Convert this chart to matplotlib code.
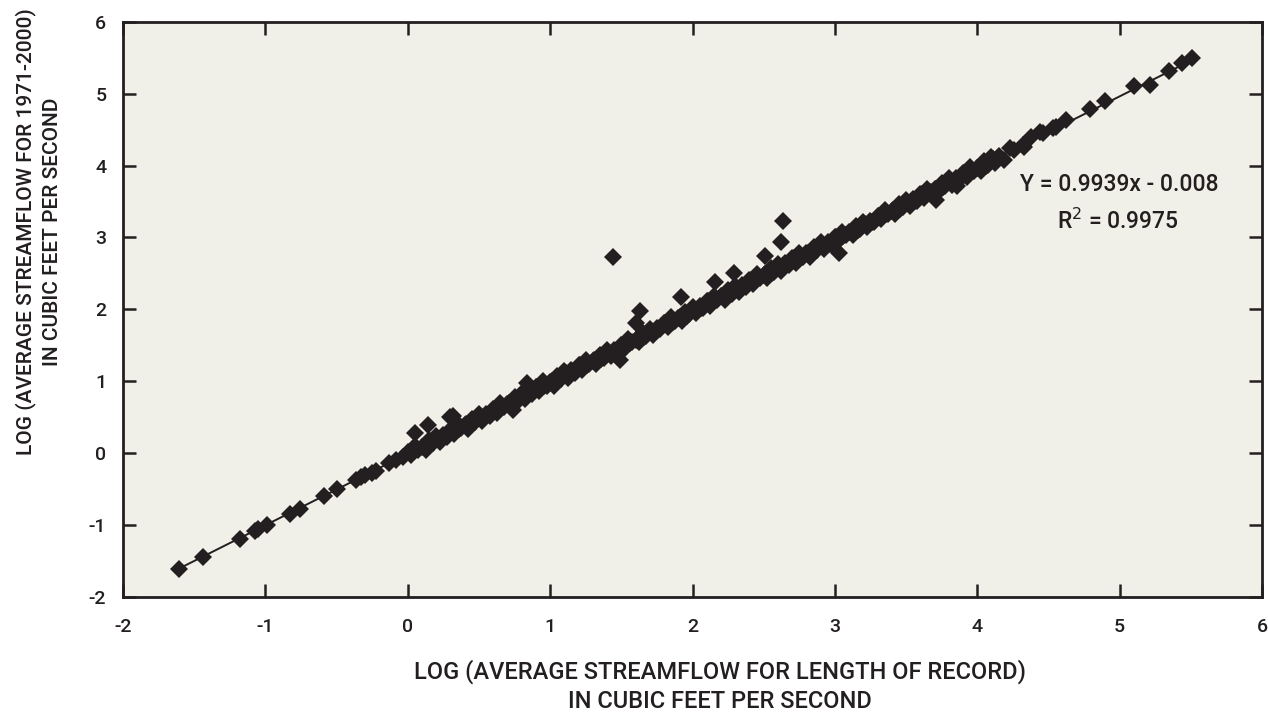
import matplotlib
matplotlib.use("Agg")
import matplotlib.pyplot as plt
import numpy as np

plt.rcParams['font.family'] = ['Roboto', 'DejaVu Sans']
plt.rcParams['font.weight'] = 'medium'
plt.rcParams['axes.unicode_minus'] = False

# log streamflow, length of record (x) vs 1971-2000 (y)
x_low = [-1.61, -1.44, -1.18, -1.07, -1.05, -0.99, -0.83, -0.76, -0.59, -0.50,
         -0.36, -0.33, -0.30, -0.25, -0.22, -0.13, -0.08, -0.03]
y_low = [-1.61, -1.44, -1.19, -1.08, -1.06, -1.00, -0.84, -0.78, -0.60, -0.50,
         -0.37, -0.33, -0.31, -0.27, -0.25, -0.13, -0.09, -0.05]

x_band = [0.000, 0.025, 0.050, 0.075, 0.100, 0.125, 0.150, 0.175, 0.200, 0.225,
          0.250, 0.275, 0.300, 0.325, 0.350, 0.375, 0.400, 0.425, 0.450, 0.475,
          0.500, 0.525, 0.550, 0.575, 0.600, 0.625, 0.650, 0.675, 0.700, 0.725,
          0.750, 0.775, 0.800, 0.825, 0.850, 0.875, 0.900, 0.925, 0.950, 0.975,
          1.000, 1.025, 1.050, 1.075, 1.100, 1.125, 1.150, 1.175, 1.200, 1.225,
          1.250, 1.275, 1.300, 1.325, 1.350, 1.375, 1.400, 1.425, 1.450, 1.475,
          1.500, 1.525, 1.550, 1.575, 1.600, 1.625, 1.650, 1.675, 1.700, 1.725,
          1.750, 1.775, 1.800, 1.825, 1.850, 1.875, 1.900, 1.925, 1.950, 1.975,
          2.000, 2.025, 2.050, 2.075, 2.100, 2.125, 2.150, 2.175, 2.200, 2.225,
          2.250, 2.275, 2.300, 2.325, 2.350, 2.375, 2.400, 2.425, 2.450, 2.475,
          2.500, 2.525, 2.550, 2.575, 2.600, 2.625, 2.650, 2.675, 2.700, 2.725,
          2.750, 2.775, 2.800, 2.825, 2.850, 2.875, 2.900, 2.925, 2.950, 2.975,
          3.000, 3.025, 3.050, 3.075, 3.100, 3.125, 3.150, 3.175, 3.200, 3.225,
          3.250, 3.275, 3.300, 3.325, 3.350, 3.375, 3.400, 3.425, 3.450, 3.475,
          3.500, 3.525, 3.550, 3.575, 3.600, 3.625, 3.650, 3.675, 3.700, 3.725,
          3.750, 3.775, 3.800, 3.825, 3.850, 3.875, 3.900, 3.925, 3.950, 3.975,
          4.000, 4.025, 4.050, 4.075, 4.100, 4.125, 4.150]
y_band = [0.02, -0.03, 0.10, 0.05, 0.09, 0.05, 0.18, 0.14, 0.24, 0.16,
          0.25, 0.23, 0.32, 0.27, 0.40, 0.35, 0.39, 0.34, 0.48, 0.43,
          0.54, 0.45, 0.55, 0.52, 0.62, 0.56, 0.70, 0.64, 0.69, 0.64,
          0.78, 0.73, 0.84, 0.75, 0.85, 0.82, 0.92, 0.86, 1.00, 0.94,
          0.99, 0.94, 1.08, 1.03, 1.14, 1.05, 1.15, 1.12, 1.22, 1.16,
          1.30, 1.24, 1.28, 1.24, 1.37, 1.33, 1.43, 1.35, 1.44, 1.42,
          1.51, 1.46, 1.59, 1.54, 1.58, 1.54, 1.67, 1.63, 1.73, 1.65,
          1.74, 1.72, 1.81, 1.76, 1.89, 1.84, 1.88, 1.84, 1.97, 1.93,
          2.03, 1.95, 2.04, 2.02, 2.11, 2.05, 2.19, 2.13, 2.18, 2.13,
          2.27, 2.22, 2.33, 2.24, 2.34, 2.31, 2.41, 2.35, 2.49, 2.43,
          2.48, 2.43, 2.57, 2.52, 2.63, 2.54, 2.64, 2.61, 2.71, 2.65,
          2.79, 2.73, 2.78, 2.73, 2.87, 2.82, 2.93, 2.84, 2.93, 2.91,
          3.00, 2.95, 3.08, 3.03, 3.07, 3.03, 3.16, 3.12, 3.22, 3.14,
          3.23, 3.21, 3.30, 3.25, 3.38, 3.33, 3.37, 3.33, 3.46, 3.42,
          3.52, 3.44, 3.53, 3.51, 3.60, 3.55, 3.68, 3.63, 3.67, 3.63,
          3.76, 3.71, 3.82, 3.73, 3.83, 3.80, 3.90, 3.84, 3.98, 3.92,
          3.97, 3.92, 4.06, 4.01, 4.12, 4.03, 4.13]

# second, tighter row of stations filling the middle of the band
x_mid = [0.31, 0.36, 0.41, 0.46, 0.51, 0.56, 0.61, 0.66, 0.71, 0.76,
         0.81, 0.86, 0.91, 0.96, 1.01, 1.06, 1.11, 1.16, 1.21, 1.26,
         1.31, 1.36, 1.41, 1.46, 1.51, 1.56, 1.61, 1.66, 1.71, 1.76,
         1.81, 1.86, 1.91, 1.96, 2.01, 2.06, 2.11, 2.16, 2.21, 2.26,
         2.31, 2.36, 2.41, 2.46, 2.51, 2.56, 2.61, 2.66, 2.71, 2.76,
         2.81, 2.86, 2.91, 2.96, 3.01, 3.06, 3.11, 3.16, 3.21, 3.26,
         3.31, 3.36, 3.41, 3.46, 3.51, 3.56, 3.61, 3.66, 3.71, 3.76,
         3.81, 3.86, 3.91, 3.96, 4.01, 4.06, 4.11]
y_mid = [0.32, 0.34, 0.40, 0.42, 0.51, 0.53, 0.62, 0.64, 0.70, 0.72,
         0.81, 0.83, 0.92, 0.94, 1.00, 1.02, 1.11, 1.13, 1.22, 1.23,
         1.29, 1.31, 1.40, 1.42, 1.51, 1.53, 1.59, 1.61, 1.70, 1.72,
         1.81, 1.83, 1.89, 1.91, 2.00, 2.02, 2.11, 2.13, 2.19, 2.21,
         2.30, 2.32, 2.41, 2.43, 2.49, 2.51, 2.60, 2.62, 2.71, 2.73,
         2.79, 2.81, 2.89, 2.91, 3.00, 3.02, 3.08, 3.10, 3.19, 3.21,
         3.30, 3.32, 3.38, 3.40, 3.49, 3.51, 3.60, 3.62, 3.68, 3.70,
         3.79, 3.81, 3.90, 3.92, 3.98, 4.00, 4.09]

x_high = [4.19, 4.23, 4.26, 4.32, 4.33, 4.38, 4.44, 4.46, 4.53, 4.55,
          4.62, 4.79, 4.90, 5.10, 5.21, 5.35, 5.44, 5.51]
y_high = [4.08, 4.24, 4.22, 4.28, 4.26, 4.40, 4.47, 4.45, 4.52, 4.54,
          4.63, 4.78, 4.90, 5.10, 5.12, 5.31, 5.42, 5.50]

x_out = [0.05, 0.14, 0.30, 0.32, 0.74, 0.84, 1.49, 1.44, 1.60, 1.63,
         1.92, 2.16, 2.29, 2.51, 2.62, 2.635, 3.03, 3.71, 3.86]
y_out = [0.28, 0.39, 0.50, 0.52, 0.60, 0.97, 1.29, 2.73, 1.81, 1.98,
         2.175, 2.38, 2.50, 2.74, 2.94, 3.23, 2.78, 3.52, 3.71]

slope = 0.9939
intercept = -0.008

ink = '#231f20'

fig = plt.figure(figsize=(12.68, 7.19), dpi=100)
ax = fig.add_axes([123/1268, 1 - 597/719, (1262-123)/1268, (597-21.7)/719])
ax.set_facecolor('#f1f0e8')

xs = np.concatenate([x_low, x_band, x_mid, x_high, x_out])
ys = np.concatenate([y_low, y_band, y_mid, y_high, y_out])

xl = np.array([min(xs), max(xs)])
ax.plot(xl, slope * xl + intercept, color=ink, lw=1.4, zorder=2)
ax.plot(xs, ys, 'D', color=ink, ms=9, mew=0, zorder=3)

ax.set_xlim(-2, 6)
ax.set_ylim(-2, 6)
ax.set_xticks(range(-2, 7))
ax.set_yticks(range(-2, 7))
ax.tick_params(direction='in', length=9.5, width=1.8, top=True, right=True,
               labelsize=14, colors=ink)
ax.tick_params(axis='x', pad=15)
ax.tick_params(axis='y', pad=12)
for s in ax.spines.values():
    s.set_linewidth(2)
    s.set_color(ink)

ax.text(5.0, 3.73, 'Y = 0.9939x - 0.008', ha='center', va='center', fontsize=16.5, color=ink)
ax.text(4.99, 3.22, 'R$^2$ = 0.9975', ha='center', va='center', fontsize=16.5, color=ink)

fig.text(720/1268, 1 - 686/719,
         'LOG (AVERAGE STREAMFLOW FOR LENGTH OF RECORD)\nIN CUBIC FEET PER SECOND',
         ha='center', va='center', fontsize=17, color=ink, linespacing=1.35)
fig.text(38.5/1268, 1 - 232/719,
         'LOG (AVERAGE STREAMFLOW FOR 1971-2000)\nIN CUBIC FEET PER SECOND',
         ha='center', va='center', rotation=90, fontsize=15, color=ink, linespacing=1.5)

fig.savefig('out.png', dpi=100)
